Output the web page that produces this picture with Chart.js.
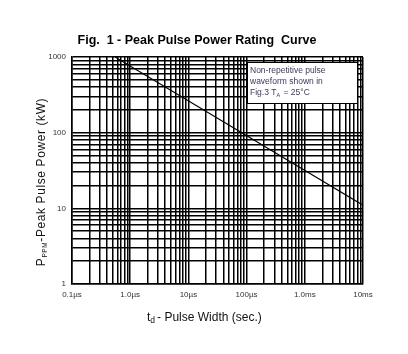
<!DOCTYPE html>
<html>
<head>
<meta charset="UTF-8">
<title>Peak Pulse Power Rating Curve</title>
<script src="https://cdn.jsdelivr.net/npm/chart.js"></script>
<style>
  html, body { margin: 0; padding: 0; background: #fff; }
  #wrap { width: 408px; height: 354px; }
</style>
</head>
<body>
<div id="wrap"><canvas id="c" width="408" height="354"></canvas></div>
<script>
// pulse width (s) and peak power (kW)
const pulseWidth = [5.5e-7, 1e-2];
const peakPower = [1000, 11];

const xDecades = [1e-7, 1e-6, 1e-5, 1e-4, 1e-3, 1e-2];
const xLabels = ['0.1\u00b5s', '1.0\u00b5s', '10\u00b5s', '100\u00b5s', '1.0ms', '10ms'];
const yDecades = [1, 10, 100, 1000];
const yLabels = ['1', '10', '100', '1000'];

const noteLines = ['Non-repetitive pulse', 'waveform shown in'];

const FONT = "'Liberation Sans', Arial, sans-serif";

function minorTicks(decades) {
  const out = [];
  for (let i = 0; i < decades.length; i++) {
    out.push({ value: decades[i] });
    if (i < decades.length - 1) {
      for (let m = 2; m <= 9; m++) out.push({ value: decades[i] * m });
    }
  }
  return out;
}

function decadeLabel(decades, labels) {
  return function (v) {
    for (let i = 0; i < decades.length; i++) {
      if (Math.abs(v / decades[i] - 1) < 1e-6) return labels[i];
    }
    return '';
  };
}

const textPlugin = {
  id: 'texts',
  afterDraw(chart) {
    const ctx = chart.ctx;
    ctx.save();
    // title
    ctx.fillStyle = '#000';
    ctx.font = 'bold 12.5px ' + FONT;
    ctx.textAlign = 'center';
    ctx.textBaseline = 'middle';
    ctx.fillText('Fig.  1 - Peak Pulse Power Rating  Curve', 197, 41);

    // x title: t_d - Pulse Width (sec.)
    ctx.textAlign = 'left';
    ctx.textBaseline = 'alphabetic';
    ctx.fillStyle = '#111';
    ctx.font = '12px ' + FONT;
    let x = 147, y = 321;
    ctx.fillText('t', x, y);
    x += ctx.measureText('t').width;
    ctx.font = '8.5px ' + FONT;
    ctx.fillText('d', x, y + 2);
    x += ctx.measureText('d').width + 2;
    ctx.font = '12px ' + FONT;
    ctx.fillText('- Pulse Width (sec.)', x, y);

    // y title, rotated
    ctx.save();
    ctx.translate(45, 182);
    ctx.rotate(-Math.PI / 2);
    ctx.letterSpacing = '0.6px';
    ctx.font = '12px ' + FONT;
    const p1 = 'P', sub = 'PPM', p2 = '-Peak Pulse Power (kW)';
    const w1 = ctx.measureText(p1).width;
    const w3 = ctx.measureText(p2).width;
    ctx.font = '6.5px ' + FONT;
    const w2 = ctx.measureText(sub).width;
    let sx = -(w1 + w2 + w3) / 2;
    ctx.font = '12px ' + FONT;
    ctx.fillText(p1, sx, 0);
    sx += w1;
    ctx.font = '6.5px ' + FONT;
    ctx.fillText(sub, sx, 2);
    sx += w2;
    ctx.font = '12px ' + FONT;
    ctx.fillText(p2, sx, 0);
    ctx.restore();

    // note box
    ctx.fillStyle = '#fff';
    ctx.fillRect(248, 63, 109, 40);
    ctx.strokeStyle = '#000';
    ctx.lineWidth = 1;
    ctx.strokeRect(247.5, 62.5, 110, 41);
    ctx.fillStyle = '#3a3a5a';
    ctx.font = '8.5px ' + FONT;
    ctx.textBaseline = 'middle';
    ctx.fillText(noteLines[0], 250, 71);
    ctx.fillText(noteLines[1], 250, 82);
    let nx = 250;
    ctx.fillText('Fig.3 T', nx, 93);
    nx += ctx.measureText('Fig.3 T').width;
    ctx.font = '5.5px ' + FONT;
    ctx.fillText('A', nx, 95);
    nx += ctx.measureText('A').width + 1;
    ctx.font = '8.5px ' + FONT;
    ctx.fillText(' = 25\u00b0C', nx, 93);
    ctx.restore();
  }
};

new Chart(document.getElementById('c'), {
  type: 'line',
  data: {
    datasets: [{
      data: pulseWidth.map((t, i) => ({ x: t, y: peakPower[i] })),
      borderColor: '#000',
      borderWidth: 1.1,
      pointRadius: 0,
      fill: false,
      tension: 0
    }]
  },
  options: {
    responsive: false,
    animation: false,
    layout: { padding: { left: 0, top: 57, right: 45, bottom: 0 } },
    plugins: { legend: { display: false }, tooltip: { enabled: false } },
    scales: {
      x: {
        type: 'logarithmic',
        min: xDecades[0],
        max: xDecades[xDecades.length - 1],
        afterBuildTicks: s => { s.ticks = minorTicks(xDecades); },
        afterFit: s => { s.height = 70; },
        ticks: {
          autoSkip: false,
          maxRotation: 0,
          padding: 6,
          color: '#333',
          font: { family: FONT, size: 8 },
          callback: decadeLabel(xDecades, xLabels)
        },
        grid: { color: '#000', lineWidth: 1.5, drawTicks: false },
        border: { color: '#000', width: 1.5 }
      },
      y: {
        type: 'logarithmic',
        min: yDecades[0],
        max: yDecades[yDecades.length - 1],
        afterBuildTicks: s => { s.ticks = minorTicks(yDecades); },
        afterFit: s => { s.width = 72; },
        ticks: {
          autoSkip: false,
          padding: 6,
          color: '#333',
          font: { family: FONT, size: 8 },
          callback: decadeLabel(yDecades, yLabels)
        },
        grid: { color: '#000', lineWidth: 1.5, drawTicks: false },
        border: { color: '#000', width: 1.5 }
      }
    }
  },
  plugins: [textPlugin]
});
</script>
</body>
</html>
